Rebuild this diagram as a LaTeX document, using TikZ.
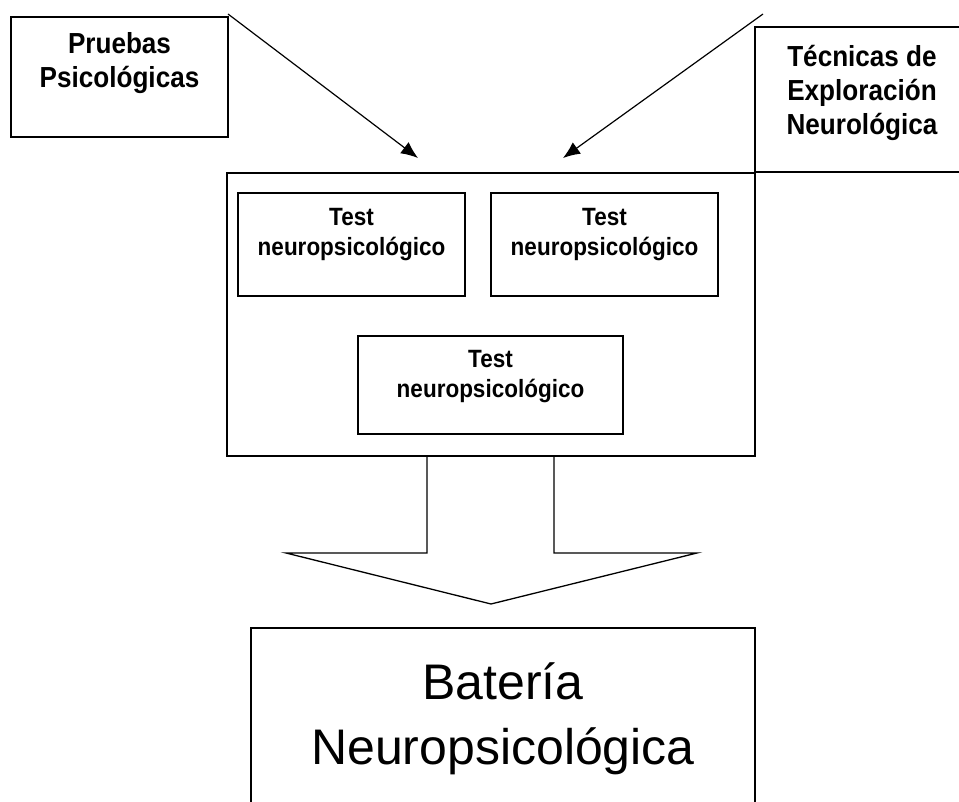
\documentclass[tikz,border=0pt]{standalone}
\usepackage{fontspec}
\setmainfont{Liberation Sans}
\newfontfamily\narrowsans{Liberation Sans}[FakeStretch=0.9]
\usetikzlibrary{arrows.meta}

\begin{document}
\begin{tikzpicture}[x=1pt,y=-1pt,
        box/.style={draw,line width=1.3pt,inner sep=0pt},
        headtext/.style={anchor=north,align=center,inner sep=0pt,font=\narrowsans\bfseries\fontsize{29}{34}\selectfont},
        testtext/.style={anchor=north,align=center,inner sep=0pt,font=\narrowsans\bfseries\fontsize{25}{30}\selectfont},
        bigtext/.style={anchor=north,align=center,inner sep=0pt,font=\fontsize{50}{65}\selectfont},
        link/.style={-{Latex[length=17pt,width=14pt]},line width=1.2pt},
        blockarrow/.style={line width=1.3pt,line join=miter}
    ]
        \useasboundingbox (0,0) rectangle (959,802);

        % Define the boxes
        \node[box,minimum width=217pt,minimum height=120pt] (pruebas) at (119.5,77) {};
        \node[box,minimum width=214pt,minimum height=145pt] (tecnicas) at (862,99.5) {};
        \node[box,minimum width=528pt,minimum height=283pt] (grupo) at (491,314.5) {};
        \node[box,minimum width=227pt,minimum height=103pt] (testA) at (351.5,244.5) {};
        \node[box,minimum width=227pt,minimum height=103pt] (testB) at (604.5,244.5) {};
        \node[box,minimum width=265pt,minimum height=98pt] (testC) at (490.5,385) {};
        \node[box,minimum width=504pt,minimum height=202pt] (bateria) at (503,729) {};

        % Texts of the boxes
        \node[headtext] (pruebasText) at (119.5,32) {Pruebas\\Psicológicas};
        \node[headtext] (tecnicasText) at (862,45) {Técnicas de\\Exploración\\Neurológica};
        \node[testtext] (testAText) at (351.5,208) {Test\\neuropsicológico};
        \node[testtext] (testBText) at (604.5,208) {Test\\neuropsicológico};
        \node[testtext] (testCText) at (490.5,350) {Test\\neuropsicológico};
        \node[bigtext] (bateriaText) at (503,662) {Batería\\Neuropsicológica};

        % Draw the two arrows into the group
        \coordinate (pruebasTail) at (228,14);
        \coordinate (pruebasTip) at (418,158);
        \coordinate (tecnicasTail) at (763,14);
        \coordinate (tecnicasTip) at (563,158);
        \draw[link] (pruebasTail) -- (pruebasTip);
        \draw[link] (tecnicasTail) -- (tecnicasTip);

        % Draw the block arrow
        \draw[blockarrow] (427,456) -- (427,553) -- (286,553) -- (491,604) -- (697,553) -- (554,553) -- (554,456);
    \end{tikzpicture}
\end{document}
